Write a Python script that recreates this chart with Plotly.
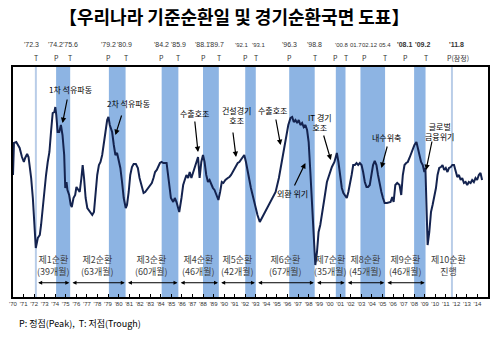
import plotly.graph_objects as go

# ---------------- data ----------------
title_text = "【우리나라 기준순환일 및 경기순환국면 도표】"
footnote_text = "P: 정점(Peak),  T: 저점(Trough)"

t = [1970.00, 1970.09, 1970.31, 1970.63, 1970.85, 1971.03, 1971.15, 1971.34, 1971.47, 1971.57,
     1971.72, 1971.88, 1972.04, 1972.16, 1972.35, 1972.54, 1972.66, 1972.82, 1972.98, 1973.13,
     1973.29, 1973.45, 1973.60, 1973.76, 1973.92, 1974.01, 1974.10, 1974.23, 1974.38, 1974.54,
     1974.69, 1974.85, 1974.95, 1975.07, 1975.16, 1975.32, 1975.47, 1975.57, 1975.73, 1975.89,
     1976.01, 1976.17, 1976.32, 1976.48, 1976.60, 1976.73, 1976.88, 1977.04, 1977.20, 1977.35,
     1977.51, 1977.67, 1977.82, 1977.98, 1978.14, 1978.29, 1978.45, 1978.61, 1978.76, 1978.92,
     1979.04, 1979.17, 1979.39, 1979.55, 1979.70, 1979.86, 1980.02, 1980.17, 1980.33, 1980.49,
     1980.68, 1980.80, 1980.96, 1981.11, 1981.27, 1981.43, 1981.64, 1981.83, 1981.99, 1982.21,
     1982.37, 1982.52, 1982.68, 1982.84, 1982.99, 1983.15, 1983.31, 1983.46, 1983.62, 1983.77,
     1983.92, 1984.08, 1984.24, 1984.55, 1984.77, 1984.96, 1985.18, 1985.33, 1985.49, 1985.75,
     1985.96, 1986.12, 1986.27, 1986.43, 1986.59, 1986.74, 1986.90, 1987.06, 1987.21, 1987.37,
     1987.53, 1987.68, 1987.84, 1988.00, 1988.15, 1988.31, 1988.47, 1988.62, 1988.78, 1988.94,
     1989.09, 1989.25, 1989.46, 1989.62, 1989.78, 1989.93, 1990.12, 1990.35, 1990.50, 1990.66,
     1990.82, 1990.97, 1991.13, 1991.29, 1991.44, 1991.60, 1991.76, 1991.91, 1992.07, 1992.23,
     1992.38, 1992.54, 1992.70, 1992.85, 1993.00, 1993.16, 1993.38, 1993.63, 1993.94, 1994.25,
     1994.57, 1994.88, 1995.19, 1995.51, 1995.82, 1996.08, 1996.29, 1996.45, 1996.60, 1996.76,
     1996.92, 1997.07, 1997.23, 1997.39, 1997.54, 1997.70, 1997.86, 1998.01, 1998.17, 1998.33,
     1998.48, 1998.64, 1998.80, 1998.95, 1999.11, 1999.27, 1999.51, 1999.74, 1999.95, 2000.21,
     2000.45, 2000.68, 2000.83, 2000.99, 2001.15, 2001.30, 2001.46, 2001.62, 2001.77, 2001.92,
     2002.08, 2002.23, 2002.39, 2002.55, 2002.70, 2002.86, 2003.02, 2003.17, 2003.33, 2003.49,
     2003.64, 2003.80, 2003.96, 2004.11, 2004.27, 2004.43, 2004.58, 2004.74, 2004.90, 2005.05,
     2005.21, 2005.43, 2005.62, 2005.77, 2005.93, 2006.06, 2006.22, 2006.40, 2006.62, 2006.78,
     2006.93, 2007.09, 2007.25, 2007.40, 2007.56, 2007.72, 2007.87, 2008.03, 2008.22, 2008.34,
     2008.50, 2008.66, 2008.82, 2008.97, 2009.07, 2009.18, 2009.28, 2009.44, 2009.60, 2009.75,
     2009.91, 2010.07, 2010.22, 2010.38, 2010.54, 2010.69, 2010.85, 2011.00, 2011.16, 2011.31,
     2011.47, 2011.62, 2011.78, 2011.94, 2012.09, 2012.25, 2012.41, 2012.56, 2012.72, 2012.88,
     2013.03, 2013.19, 2013.35, 2013.50, 2013.66, 2013.82, 2013.97, 2014.13, 2014.29, 2014.44]

v = [102.2, 105.4, 105.5, 104.9, 104.0, 103.5, 103.9, 104.3, 104.0, 103.2,
     101.9, 99.9, 97.2, 94.9, 95.9, 96.2, 97.2, 99.2, 100.5, 102.2,
     103.5, 104.5, 106.5, 108.4, 108.5, 109.0, 108.2, 106.5, 106.5, 107.2,
     106.2, 104.2, 100.9, 101.5, 100.7, 100.2, 99.2, 99.0, 99.9, 100.2,
     101.0, 100.7, 100.5, 101.9, 103.2, 101.9, 99.9, 98.9, 98.7, 98.5,
     98.2, 98.5, 100.2, 102.2, 103.2, 103.5, 104.2, 105.2, 106.5, 107.7,
     108.0, 107.2, 106.5, 105.2, 104.2, 104.4, 103.5, 102.9, 101.5, 99.9,
     98.9, 99.2, 100.5, 102.2, 103.0, 103.3, 103.3, 102.9, 101.9, 100.9,
     100.4, 100.5, 100.7, 101.0, 101.2, 101.4, 101.9, 102.5, 102.7, 103.0,
     103.4, 103.5, 103.4, 103.4, 101.5, 99.9, 99.5, 99.9, 99.5, 98.5,
     99.9, 101.2, 101.7, 102.2, 101.9, 102.5, 101.9, 102.4, 102.9, 103.5,
     104.0, 101.9, 103.5, 104.2, 103.5, 102.2, 101.5, 101.7, 101.2, 100.9,
     100.7, 100.2, 99.7, 100.5, 101.5, 101.4, 101.7, 101.9, 102.0, 102.2,
     102.5, 102.9, 103.2, 103.4, 103.5, 103.7, 103.9, 104.2, 103.5, 102.5,
     101.5, 100.9, 100.2, 99.5, 98.9, 98.2, 97.5, 98.0, 98.5, 99.2,
     99.9, 100.5, 101.9, 103.9, 105.9, 107.2, 107.9, 108.0, 107.5, 107.7,
     107.4, 107.7, 107.2, 107.4, 107.0, 107.2, 106.7, 105.5, 102.5, 99.2,
     96.2, 93.2, 94.5, 96.5, 97.2, 98.5, 99.9, 101.5, 102.2, 103.0,
     103.5, 104.4, 103.5, 101.9, 100.9, 100.4, 100.2, 99.9, 100.5, 101.2,
     102.2, 103.2, 103.2, 103.4, 103.2, 103.4, 103.2, 102.5, 101.5, 101.0,
     101.0, 101.2, 102.2, 103.2, 103.6, 103.2, 102.2, 101.2, 100.5, 99.9,
     99.4, 99.4, 99.5, 99.5, 100.0, 99.5, 101.2, 101.4, 101.2, 100.2,
     102.2, 103.2, 103.4, 103.5, 103.9, 104.4, 104.9, 105.2, 105.5, 105.0,
     104.2, 103.5, 103.2, 102.5, 102.9, 99.2, 95.2, 96.5, 98.5, 99.2,
     99.9, 100.9, 102.2, 102.9, 103.0, 103.2, 102.7, 102.9, 102.5, 102.9,
     103.0, 103.2, 103.2, 102.4, 102.0, 102.2, 101.7, 101.9, 101.4, 101.5,
     101.2, 101.5, 101.4, 101.7, 101.5, 101.9, 101.7, 102.2, 102.4, 101.7]

# turning points (year, month)
peaks = [(1974, 2), (1979, 2), (1984, 2), (1988, 1), (1992, 1), (1996, 3),
         (2000, 8), (2002, 12), (2008, 1)]
troughs = [(1975, 6), (1980, 9), (1985, 9), (1989, 7), (1993, 1), (1998, 8),
           (2001, 7), (2005, 4), (2009, 2)]
first_trough = (1972, 3)
latest_peak = (2011, 8)

turn_labels = ["'72.3", "'74.2", "'75.6", "'79.2", "'80.9", "'84.2", "'85.9", "'88.1", "'89.7",
               "'92.1", "'93.1", "'96.3", "'98.8", "'00.8", "01.7", "02.12", "05.4",
               "'08.1", "'09.2", "'11.8"]
turn_types = ["T", "P", "T", "P", "T", "P", "T", "P", "T", "P", "T", "P", "T",
              "P", "T", "P", "T", "P", "T", "P(잠정)"]
turn_dates = [(1972, 3), (1974, 2), (1975, 6), (1979, 2), (1980, 9), (1984, 2), (1985, 9),
              (1988, 1), (1989, 7), (1992, 1), (1993, 1), (1996, 3), (1998, 8), (2000, 8),
              (2001, 7), (2002, 12), (2005, 4), (2008, 1), (2009, 2), (2011, 8)]

cycle_names = ["제1순환", "제2순환", "제3순환", "제4순환", "제5순환",
               "제6순환", "제7순환", "제8순환", "제9순환", "제10순환"]
cycle_lengths = ["(39개월)", "(63개월)", "(60개월)", "(46개월)", "(42개월)",
                 "(67개월)", "(35개월)", "(45개월)", "(46개월)", "진행"]

year_ticks = list(range(1970, 2015))
year_labels = ["'%02d" % (y % 100) for y in year_ticks]

events = ["1차 석유파동", "2차 석유파동", "수출호조", "건설경기<br>호조", "수출호조",
          "외환 위기", "IT 경기<br>호조", "내수위축", "글로벌<br>금융위기"]


def dec(ym):
    return ym[0] + (ym[1] - 1) / 12.0


# ---------------- styles / layout positions ----------------
BAND = "#8db4e3"
THIN = "#b9cde8"
LINE = "#14234f"
FONT = "Noto Sans CJK KR"
NUMFONT = "Liberation Sans"

# text pixel shifts / sizes for crowded labels (style)
label_shift = [-4, -1, 0, 0, -1, 0, 0, -1, -2, -4, 3, 0, 0, 6, 10, 9.5, 0, -10, -3, 5]
label_size = [7, 7, 7, 7, 7, 7, 7, 7, 7, 6, 6, 7, 7, 6, 6, 6, 6, 7, 7, 7]
type_shift = [0, 0, 0, 0, 0, 0, 0, 0, 0, 0, 0, 0, 0, 0, 0, 4, 0, -9, 0, 6]

# event annotation geometry: (text_x, text_y, tail_x, tail_y, head_x, head_y)
event_geom = [
    (1975.47, 110.8, 1975.16, 109.9, 1974.69, 107.4),
    (1980.96, 109.4, 1980.33, 108.3, 1979.70, 106.2),
    (1987.21, 108.4, 1987.21, 107.7, 1987.53, 104.5),
    (1991.13, 108.2, 1990.82, 106.6, 1991.13, 104.0),
    (1994.57, 108.7, 1994.88, 107.9, 1995.35, 105.2),
    (1996.45, 100.4, 1996.60, 101.0, 1997.70, 103.4),
    (1999.11, 107.5, 1999.39, 106.3, 2000.11, 103.7),
    (2005.37, 106.0, 2005.49, 105.2, 2004.90, 102.9),
    (2010.38, 106.6, 2009.72, 105.7, 2009.13, 102.7),
]

fig = go.Figure()

fig.add_trace(go.Scatter(x=t, y=v, mode="lines",
                         line=dict(color=LINE, width=2), hoverinfo="skip",
                         showlegend=False))

shapes = []
for p, tr in zip(peaks, troughs):
    shapes.append(dict(type="rect", xref="x", yref="paper", x0=dec(p), x1=dec(tr),
                       y0=0, y1=1, fillcolor=BAND, line=dict(width=0), layer="below"))
for d in (first_trough, latest_peak):
    shapes.append(dict(type="line", xref="x", yref="paper", x0=dec(d), x1=dec(d),
                       y0=0, y1=1, line=dict(color=THIN, width=2), layer="below"))

ann = []
ann.append(dict(text="<b>" + title_text + "</b>", xref="paper", yref="paper",
                x=0.465, y=1.285, yanchor="top", showarrow=False,
                font=dict(size=18, color="black", family=FONT)))

for i, (lab, typ, d) in enumerate(zip(turn_labels, turn_types, turn_dates)):
    bold = lab in ("'08.1", "'09.2", "'11.8")
    ann.append(dict(text=("<b>%s</b>" % lab) if bold else lab, xref="x", yref="paper",
                    x=dec(d), y=1.096, yanchor="middle", xshift=label_shift[i],
                    showarrow=False,
                    font=dict(size=label_size[i], color="#333333", family=NUMFONT)))
    ann.append(dict(text=typ, xref="x", yref="paper",
                    x=dec(d), y=1.040, yanchor="middle", xshift=type_shift[i],
                    showarrow=False,
                    font=dict(size=7, color="#333333", family=FONT)))

# cycle labels and double arrows
bounds = [dec(first_trough)] + [dec(x) for x in troughs]
for i, (nm, ln) in enumerate(zip(cycle_names, cycle_lengths)):
    if i < len(bounds) - 1:
        xc = (bounds[i] + bounds[i + 1]) / 2
    else:
        xc = (bounds[i] + 2013.5) / 2
    ann.append(dict(text=nm + "<br>" + ln, xref="x", yref="paper", x=xc, y=0.137,
                    yanchor="middle", showarrow=False,
                    font=dict(size=9, color="#404040", family=FONT)))
for i in range(len(bounds) - 1):
    ann.append(dict(text="", xref="x", yref="paper", x=bounds[i + 1] - 0.08, y=0.062,
                    axref="x", ayref="pixel", ax=bounds[i] + 0.08, ay=0,
                    showarrow=True, arrowhead=2, startarrowhead=2, arrowside="end+start",
                    arrowsize=0.8, arrowwidth=1, arrowcolor="black"))

for txt, g in zip(events, event_geom):
    ann.append(dict(text=txt, xref="x", yref="y", x=g[0], y=g[1], showarrow=False,
                    font=dict(size=8, color="black", family=FONT)))
    ann.append(dict(text="", xref="x", yref="y", x=g[4], y=g[5],
                    axref="x", ayref="y", ax=g[2], ay=g[3],
                    showarrow=True, arrowhead=2, arrowsize=0.9, arrowwidth=1.2,
                    arrowcolor="black"))

ann.append(dict(text=footnote_text, xref="paper", yref="paper", x=0.008, y=-0.115,
                xanchor="left", yanchor="middle", showarrow=False,
                font=dict(size=9, color="black", family=FONT)))

fig.update_layout(
    width=499, height=351,
    margin=dict(l=10, r=9, t=67, b=54),
    paper_bgcolor="white", plot_bgcolor="white",
    shapes=shapes, annotations=ann, showlegend=False,
    xaxis=dict(range=[1970, 2015], tickvals=year_ticks, ticktext=year_labels,
               tickangle=0, ticks="inside", ticklen=3, tickcolor="black",
               tickfont=dict(size=6, color="#333333", family=NUMFONT),
               showgrid=False, zeroline=False, showline=True, linecolor="black",
               linewidth=1.5, mirror=True),
    yaxis=dict(range=[90, 113], showticklabels=False, ticks="", showgrid=False,
               zeroline=False, showline=True, linecolor="black", linewidth=1.5,
               mirror=True),
)

fig.write_html("out.html")
